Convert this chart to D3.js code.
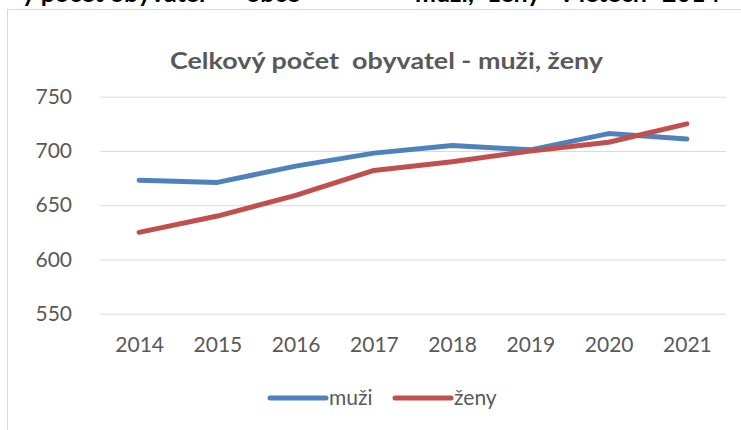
<!DOCTYPE html>
<html lang="cs">
<head>
    <meta charset="UTF-8">
    <title>Celkový počet obyvatel - muži, ženy</title>
    <script src="https://d3js.org/d3.v7.min.js"></script>
    <style>
        body { margin: 0; background: #fff; }
        text { font-family: Lato, "Open Sans", sans-serif; fill: #595959; }
        .grid line { stroke: #d9d9d9; stroke-width: 1px; }
        .grid path, .xaxis path { display: none; }
        .series { fill: none; stroke-width: 5px; stroke-linecap: round; stroke-linejoin: round; }
    </style>
</head>
<body>
    <script>
        // data
        const years = ["2014", "2015", "2016", "2017", "2018", "2019", "2020", "2021"];
        const muzi = [673, 671, 686, 698, 705, 701, 716, 711];
        const zeny = [625, 640, 659, 682, 690, 700, 708, 725];
        const yTicks = [550, 600, 650, 700, 750];
        const seriesNames = ["muži", "ženy"];
        const colors = ["#4f81bd", "#c0504d"];

        // clipped heading of the page the chart was cut out of
        const headingWords = ["ý počet obyvatel", "obce", "–", "muži,", "ženy", "v letech", "2014"];
        const headingX = [22, 246, 390, 415, 489, 560, 662];

        const width = 741;
        const height = 430;

        const svg = d3.select("body")
            .append("svg")
            .attr("width", width)
            .attr("height", height);

        const heading = svg.append("text")
            .attr("y", 1.5)
            .style("fill", "#000")
            .style("font-weight", "bold")
            .style("font-size", "25px");
        headingWords.forEach((w, i) => {
            heading.append("tspan").attr("x", headingX[i]).text(w);
        });

        // chart frame
        svg.append("rect")
            .attr("x", 7.5)
            .attr("y", 9.5)
            .attr("width", 760)
            .attr("height", 440)
            .attr("fill", "none")
            .attr("stroke", "#d9d9d9")
            .attr("stroke-width", 1);

        // title
        svg.append("text")
            .attr("x", 386.5)
            .attr("y", 69)
            .attr("text-anchor", "middle")
            .attr("textLength", 433)
            .attr("lengthAdjust", "spacingAndGlyphs")
            .style("font-weight", "bold")
            .style("font-size", "22px")
            .style("white-space", "pre")
            .text("Celkový počet  obyvatel - muži, ženy");

        const plotLeft = 100, plotRight = 726;

        const x = d3.scalePoint()
            .domain(years)
            .range([plotLeft, plotRight])
            .padding(0.5);

        const y = d3.scaleLinear()
            .domain([550, 750])
            .range([313.7, 96.7]);

        // gridlines + y labels
        svg.append("g")
            .attr("class", "grid")
            .attr("transform", `translate(${plotLeft},0)`)
            .call(d3.axisLeft(y)
                .tickValues(yTicks)
                .tickSize(-(plotRight - plotLeft))
                .tickPadding(28))
            .selectAll("text")
            .style("font-size", "21px")
            .style("font-family", "Lato, sans-serif")
            .attr("fill", "#595959");

        // x labels
        svg.append("g")
            .attr("class", "xaxis")
            .attr("transform", `translate(0,${y(550)})`)
            .call(d3.axisBottom(x).tickSize(0).tickPadding(23))
            .selectAll("text")
            .style("font-size", "21px")
            .style("font-family", "Lato, sans-serif")
            .attr("fill", "#595959");

        const line = d3.line()
            .x((d, i) => x(years[i]))
            .y(d => y(d));

        [muzi, zeny].forEach((values, k) => {
            svg.append("path")
                .datum(values)
                .attr("class", "series")
                .attr("stroke", colors[k])
                .attr("d", line);
        });

        // legend
        const legendX = [270, 395];
        const legend = svg.append("g");
        seriesNames.forEach((name, k) => {
            legend.append("line")
                .attr("x1", legendX[k])
                .attr("x2", legendX[k] + 56)
                .attr("y1", 398)
                .attr("y2", 398)
                .attr("stroke", colors[k])
                .attr("stroke-width", 5)
                .attr("stroke-linecap", "round");
            legend.append("text")
                .attr("x", legendX[k] + 59)
                .attr("y", 405)
                .style("font-size", "21px")
                .text(name);
        });
    </script>
</body>
</html>
